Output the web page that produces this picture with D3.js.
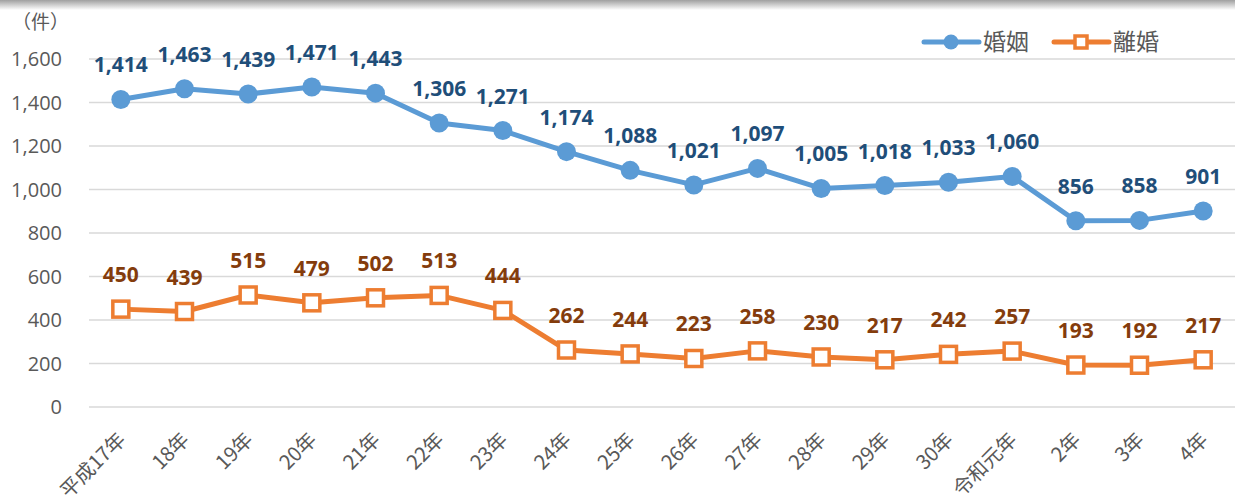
<!DOCTYPE html>
<html><head><meta charset="utf-8">
<script src="https://cdn.jsdelivr.net/npm/d3@7"></script>
<style>
body{margin:0;background:#fff;}
svg{display:block;}
text{font-family:"Noto Sans CJK JP","Noto Sans",sans-serif;}
</style></head>
<body>
<svg id="c" width="1235" height="502"></svg>
<script>
const categories = ["平成17年","18年","19年","20年","21年","22年","23年","24年","25年","26年","27年","28年","29年","30年","令和元年","2年","3年","4年"];
const marriages = [1414,1463,1439,1471,1443,1306,1271,1174,1088,1021,1097,1005,1018,1033,1060,856,858,901];
const divorces = [450,439,515,479,502,513,444,262,244,223,258,230,217,242,257,193,192,217];
const yTicks = [0,200,400,600,800,1000,1200,1400,1600];
const seriesNames = ["婚姻","離婚"];

const svg = d3.select("#c");
const W = 1235, H = 502;

// top shadow
const defs = svg.append("defs");
const g0 = defs.append("linearGradient").attr("id","sh").attr("x1",0).attr("x2",0).attr("y1",0).attr("y2",1);
g0.append("stop").attr("offset","0%").attr("stop-color","#a0a0a0");
g0.append("stop").attr("offset","100%").attr("stop-color","#ffffff");
svg.append("rect").attr("x",0).attr("y",0).attr("width",W).attr("height",10).attr("fill","url(#sh)");

const x = d3.scaleBand().domain(categories).range([89, 1235]);
const y = d3.scaleLinear().domain([0,1600]).range([407, 59]);
const cx = d => x(d) + x.bandwidth()/2;

// gridlines
svg.append("g").selectAll("line").data(yTicks).join("line")
  .attr("x1",89).attr("x2",1235)
  .attr("y1",d=>y(d)).attr("y2",d=>y(d))
  .attr("stroke","#d9d9d9").attr("stroke-width",1.5);

// y axis labels
const fmt = d3.format(",");
svg.append("g").selectAll("text").data(yTicks).join("text")
  .attr("x",62).attr("y",d=>y(d)).attr("dy","0.36em")
  .attr("text-anchor","end").attr("font-size",20).attr("fill","#595959")
  .style("font-family","'Open Sans','Noto Sans',sans-serif")
  .text(d=>fmt(d));

svg.append("text").attr("x",12).attr("y",29).attr("font-size",19).attr("fill","#595959").text("（件）");

// x labels
svg.append("g").selectAll("text").data(categories).join("text")
  .attr("transform",d=>`translate(${cx(d)+6},${441}) rotate(-45)`)
  .attr("text-anchor","end").attr("font-size",20).attr("fill","#595959")
  .text(d=>d);

const line = d3.line().x((d,i)=>cx(categories[i])).y(d=>y(d));

// marriages
svg.append("path").datum(marriages).attr("d",line).attr("fill","none")
  .attr("stroke","#5b9bd5").attr("stroke-width",5).attr("stroke-linejoin","round");
svg.append("g").selectAll("circle").data(marriages).join("circle")
  .attr("cx",(d,i)=>cx(categories[i])).attr("cy",d=>y(d)).attr("r",9.5).attr("fill","#5b9bd5");
svg.append("g").selectAll("text").data(marriages).join("text")
  .attr("x",(d,i)=>cx(categories[i])).attr("y",d=>y(d)-27)
  .attr("text-anchor","middle").attr("font-size",21).attr("font-weight","bold").attr("fill","#1f4e79")
  .style("font-family","'Open Sans','Noto Sans',sans-serif")
  .text(d=>fmt(d));

// divorces
svg.append("path").datum(divorces).attr("d",line).attr("fill","none")
  .attr("stroke","#ed7d31").attr("stroke-width",5).attr("stroke-linejoin","round");
svg.append("g").selectAll("rect").data(divorces).join("rect")
  .attr("x",(d,i)=>cx(categories[i])-8).attr("y",d=>y(d)-8).attr("width",16).attr("height",16)
  .attr("fill","#fff").attr("stroke","#ed7d31").attr("stroke-width",3.5);
svg.append("g").selectAll("text").data(divorces).join("text")
  .attr("x",(d,i)=>cx(categories[i])).attr("y",d=>y(d)-27)
  .attr("text-anchor","middle").attr("font-size",21).attr("font-weight","bold").attr("fill","#843c0c")
  .style("font-family","'Open Sans','Noto Sans',sans-serif")
  .text(d=>fmt(d));

// legend
const lg = svg.append("g");
lg.append("line").attr("x1",924).attr("x2",979).attr("y1",42).attr("y2",42).attr("stroke","#5b9bd5").attr("stroke-width",5).attr("stroke-linecap","round");
lg.append("circle").attr("cx",951).attr("cy",42).attr("r",7.5).attr("fill","#5b9bd5");
lg.append("text").attr("x",983).attr("y",42).attr("dy","0.36em").attr("font-size",23).attr("fill","#595959").text(seriesNames[0]);
lg.append("line").attr("x1",1054).attr("x2",1109).attr("y1",42).attr("y2",42).attr("stroke","#ed7d31").attr("stroke-width",5).attr("stroke-linecap","round");
lg.append("rect").attr("x",1075).attr("y",36).attr("width",12).attr("height",12).attr("fill","#fff").attr("stroke","#ed7d31").attr("stroke-width",3.5);
lg.append("text").attr("x",1113).attr("y",42).attr("dy","0.36em").attr("font-size",23).attr("fill","#595959").text(seriesNames[1]);
</script>
</body></html>
